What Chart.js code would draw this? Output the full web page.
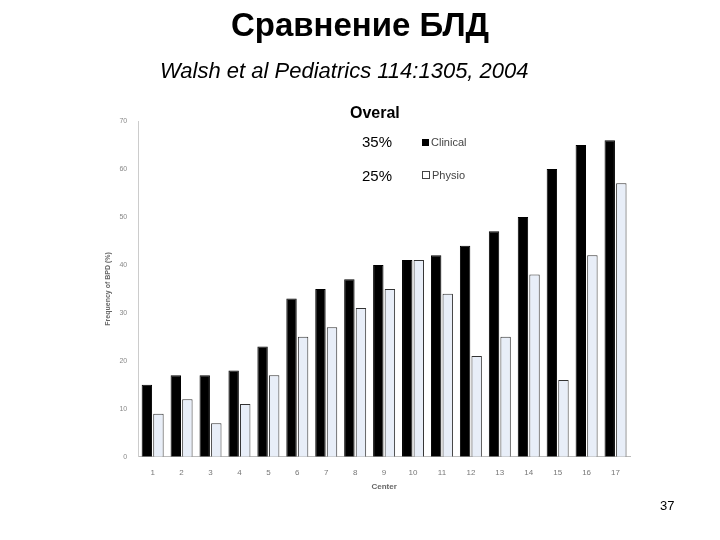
<!DOCTYPE html>
<html><head><meta charset="utf-8">
<script src="https://cdn.jsdelivr.net/npm/chart.js@4"></script>
<style>
body{margin:0;background:#fff;width:720px;height:540px;position:relative;overflow:hidden;font-family:"DejaVu Sans",sans-serif}
.t{position:absolute;white-space:nowrap}
#wrap{position:absolute;left:0;top:0;width:720px;height:540px}
</style></head><body>
<div id="wrap"><canvas id="c" width="720" height="540"></canvas></div>
<div class="t" style="left:0;width:720px;text-align:center;top:6px;font-size:33px;font-weight:bold;font-family:'Liberation Sans'">Сравнение БЛД</div>
<div class="t" style="left:160px;top:58px;font-size:22px;font-style:italic;font-family:'Liberation Sans'">Walsh et al Pediatrics 114:1305, 2004</div>
<div class="t" style="left:350px;top:104px;font-size:16px;font-weight:bold;font-family:'Liberation Sans'">Overal</div>
<div class="t" style="left:362px;top:133px;font-size:15px;font-family:'Liberation Sans'">35%</div>
<div class="t" style="left:362px;top:167px;font-size:15px;font-family:'Liberation Sans'">25%</div>
<div class="t" style="left:422px;top:136px;font-size:11px;color:#444;font-family:'Liberation Sans'"><span style="display:inline-block;width:7px;height:7px;background:#000;margin-right:2px"></span>Clinical</div>
<div class="t" style="left:422px;top:169px;font-size:11px;color:#444;font-family:'Liberation Sans'"><span style="display:inline-block;width:6px;height:6px;border:1px solid #444;margin-right:2px"></span>Physio</div>
<div class="t" style="left:660px;top:498px;font-size:13px;font-family:'Liberation Sans'">37</div>
<script>
const categories=["1","2","3","4","5","6","7","8","9","10","11","12","13","14","15","16","17"];
const clinical=[15,17,17,18,23,33,35,37,40,41,42,44,47,50,60,65,66];
const physio=[9,12,7,11,17,25,27,31,35,41,34,21,25,38,16,42,57];
new Chart(document.getElementById('c'),{type:'bar',
data:{labels:categories,datasets:[
{label:'Clinical',data:clinical,backgroundColor:'#000',borderColor:'#000',borderWidth:1},
{label:'Physio',data:physio,backgroundColor:'#e8eef8',borderColor:'#333',borderWidth:1}]},
options:{responsive:false,animation:false,
layout:{padding:{left:100,right:90,top:121,bottom:44}},
plugins:{legend:{display:false},tooltip:{enabled:false}},
scales:{
x:{grid:{display:false},border:{color:'#bbb'},categoryPercentage:0.75,barPercentage:0.85,
ticks:{color:'#777',font:{size:8}},title:{display:true,text:'Center',color:'#666',font:{size:8,weight:'bold'},padding:{top:2}}},
y:{min:0,max:70,ticks:{stepSize:10,color:'#888',font:{size:7}},grid:{display:false},border:{color:'#ccc'},
title:{display:true,text:'Frequency of BPD (%)',color:'#666',font:{size:7,weight:'bold'}}}}}});
</script></body></html>
